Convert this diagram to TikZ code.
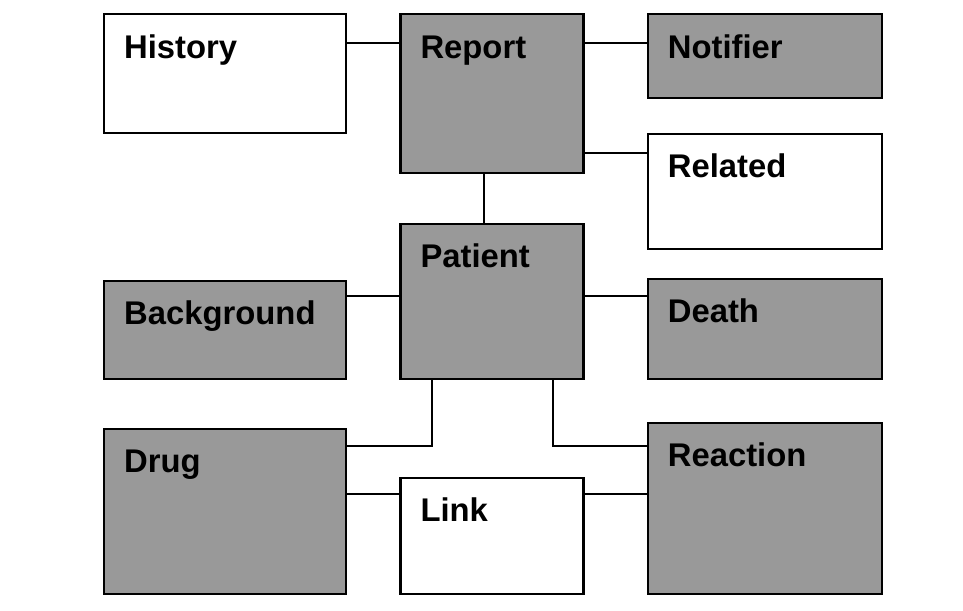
\documentclass[tikz,border=0pt]{standalone}
\usepackage{fontspec}
\setmainfont{Liberation Sans}
\usepackage{tikz}
\usetikzlibrary{positioning}
\tikzstyle{greybox} = [
rectangle,
align=left,
inner xsep=0.6cm,
inner ysep=0pt,
text height=1.32cm,
font=\fontsize{28pt}{32pt}\selectfont\bfseries,
draw=black,
fill=black!40,
line width=2pt
]
\tikzstyle{whitebox} = [
rectangle,
align=left,
inner xsep=0.6cm,
inner ysep=0pt,
text height=1.32cm,
font=\fontsize{28pt}{32pt}\selectfont\bfseries,
draw=black,
fill=white,
line width=2pt
]
\tikzstyle{conn} = [
line width=1.5pt,
draw=black
]
\begin{document}
\begin{tikzpicture}
			\useasboundingbox (0,0) rectangle (28.89,-18.33);
			
			\node (history) [whitebox, text width=6.06cm, text depth=2.25cm, anchor=north west] at (3.09,-0.39) {History};
			
			\node (report) [greybox, text width=4.29cm, text depth=3.45cm, right=1.56cm of history.north east, anchor=north west] {Report};
			
			\node (notifier) [greybox, text width=5.82cm, text depth=1.20cm, right=1.86cm of report.north east, anchor=north west] {Notifier};
			
			\node (related) [whitebox, text width=5.82cm, text depth=2.13cm, below=1.0cm of notifier.south west, anchor=north west] {Related};
			
			\node (patient) [greybox, text width=4.29cm, text depth=3.33cm, below=1.45cm of report.south west, anchor=north west] {Patient};
			
			\node (background) [greybox, text width=6.06cm, text depth=1.62cm, left=1.56cm of patient.south west, anchor=south east] {Background};
			
			\node (death) [greybox, text width=5.82cm, text depth=1.68cm, right=1.86cm of patient.south east, anchor=south west] {Death};
			
			\node (link) [whitebox, text width=4.29cm, text depth=2.16cm, below=2.9cm of patient.south west, anchor=north west] {Link};
			
			\node (drug) [greybox, text width=6.06cm, text depth=3.63cm, left=1.56cm of link.south west, anchor=south east] {Drug};
			
			\node (reaction) [greybox, text width=5.82cm, text depth=3.81cm, right=1.86cm of link.south east, anchor=south west] {Reaction};
			
			\coordinate (toprow) at ([yshift=-0.9cm]history.north east);
			\coordinate (relrow) at ([yshift=-0.6cm]related.north west);
			\coordinate (repdown) at ([xshift=2.55cm]report.south west);
			\coordinate (patrow) at ([yshift=-2.19cm]patient.north west);
			\coordinate (legleft) at ([xshift=0.99cm]patient.south west);
			\coordinate (legright) at ([xshift=-0.96cm]patient.south east);
			\coordinate (drugrow) at ([yshift=-0.54cm]drug.north east);
			\coordinate (linkrow) at ([yshift=-0.51cm]link.north west);
			
			\draw [conn] (toprow) -- (toprow -| report.west);
			\draw [conn] (toprow -| report.east) -- (toprow -| notifier.west);
			\draw [conn] (relrow) -- (relrow -| report.east);
			\draw [conn] (repdown) -- (repdown |- patient.north);
			\draw [conn] (patrow) -- (patrow -| background.east);
			\draw [conn] (patrow -| patient.east) -- (patrow -| death.west);
			\draw [conn] (legleft) |- (drugrow);
			\draw [conn] (legright) |- (drugrow -| reaction.west);
			\draw [conn] (linkrow) -- (linkrow -| drug.east);
			\draw [conn] (linkrow -| link.east) -- (linkrow -| reaction.west);
			
		\end{tikzpicture}
\end{document}
